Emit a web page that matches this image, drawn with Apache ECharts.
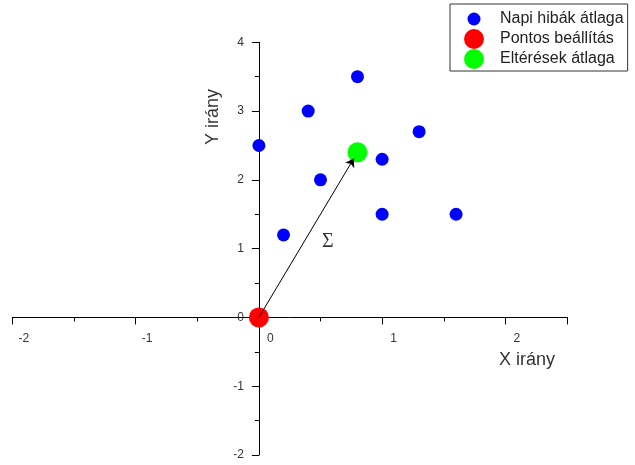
<!DOCTYPE html>
<html><head><meta charset="utf-8">
<script src="https://cdn.jsdelivr.net/npm/echarts@6/dist/echarts.min.js"></script>
<style>html,body{margin:0;padding:0;background:#fff}#c{width:635px;height:465px}</style>
</head><body><div id="c"></div>
<script>
const seriesNames = ['Napi hibák átlaga', 'Pontos beállítás', 'Eltérések átlaga'];
const dailyX = [0, 0.2, 0.4, 0.5, 0.8, 1.0, 1.0, 1.3, 1.6];
const dailyY = [2.5, 1.2, 3.0, 2.0, 3.5, 2.3, 1.5, 2.7, 1.5];
const exactPoint = [0, 0];
const meanPoint = [0.8, 2.4];
const arrowStart = [0, 0];
const arrowEnd = [0.77, 2.31];
const sigmaPos = [0.56, 1.1];
const sigmaText = 'Σ';
const xTicks = [-2, -1, 0, 1, 2];
const yTicks = [-2, -1, 0, 1, 2, 3, 4];
const xRange = [-2, 2.5];
const yRange = [-2, 4];
const xTitle = 'X irány';
const yTitle = 'Y irány';

const dailyData = dailyX.map((x, i) => [x, dailyY[i]]);
const FONT = 'Arial, "Liberation Sans", sans-serif';
const black = '#000';

const chart = echarts.init(document.getElementById('c'), null, {renderer: 'canvas'});
const smallCircle = 'path://M0,0 L0,0 M42,20 L42,20 M14.5,10 A6.5,6.5 0 1,1 27.5,10 A6.5,6.5 0 1,1 14.5,10 Z';

function buildAxes(xOffset, yOffset) {
  return {
    xAxis: [
      {
        type: 'value', min: xRange[0], max: xRange[1], interval: 1, position: 'bottom', offset: xOffset,
        splitLine: {show: false},
        axisLine: {show: true, onZero: false, lineStyle: {color: black, width: 1}},
        axisTick: {show: true, length: 7, lineStyle: {color: black, width: 1}},
        axisLabel: {
          show: true, color: '#333', fontSize: 12, fontFamily: FONT, margin: 15,
          padding: [0, 0, 0, 23], hideOverlap: false,
          formatter: v => xTicks.includes(v) ? String(v) : ''
        }
      },
      {
        type: 'value', min: xRange[0], max: xRange[1], interval: 0.5, position: 'bottom', offset: xOffset,
        splitLine: {show: false},
        axisLine: {show: false, onZero: false},
        axisTick: {show: true, length: 4, lineStyle: {color: black, width: 1}},
        axisLabel: {show: false}
      }
    ],
    yAxis: [
      {
        type: 'value', min: yRange[0], max: yRange[1], interval: 1, position: 'left', offset: yOffset,
        splitLine: {show: false},
        axisLine: {show: true, onZero: false, lineStyle: {color: black, width: 1}},
        axisTick: {show: true, length: 7, lineStyle: {color: black, width: 1}},
        axisLabel: {
          show: true, color: '#333', fontSize: 12, fontFamily: FONT, margin: 15, hideOverlap: false,
          formatter: v => yTicks.includes(v) ? String(v) : ''
        }
      },
      {
        type: 'value', min: yRange[0], max: yRange[1], interval: 0.5, position: 'left', offset: yOffset,
        splitLine: {show: false},
        axisLine: {show: false, onZero: false},
        axisTick: {show: true, length: 4, lineStyle: {color: black, width: 1}},
        axisLabel: {show: false}
      }
    ]
  };
}

const option = Object.assign({
  animation: false,
  backgroundColor: '#fff',
  grid: {left: 12.4, right: 68, top: 42.3, bottom: 10, containLabel: false, outerBoundsMode: 'none'},
  legend: {
    data: [
      {name: seriesNames[0], icon: smallCircle},
      {name: seriesNames[1], icon: 'circle'},
      {name: seriesNames[2], icon: 'circle'}
    ],
    orient: 'vertical',
    left: 450, top: 4,
    padding: [5, 4, 2, 3],
    itemWidth: 42, itemHeight: 20, itemGap: 0,
    borderColor: '#333', borderWidth: 1,
    selectedMode: false,
    textStyle: {color: '#222', fontSize: 16, fontFamily: FONT}
  },
  graphic: [
    {type: 'text', x: 527, y: 360, silent: true,
     style: {text: xTitle, font: '18px ' + FONT, fill: '#333', align: 'center', verticalAlign: 'middle'}},
    {type: 'text', x: 213, y: 117, rotation: Math.PI / 2, silent: true,
     style: {text: yTitle, font: '18px ' + FONT, fill: '#333', align: 'center', verticalAlign: 'middle'}}
  ],
  series: [
    {
      name: seriesNames[0], type: 'scatter', xAxisIndex: 0, yAxisIndex: 0,
      data: dailyData, symbol: 'circle', symbolSize: 13,
      itemStyle: {color: '#0000ff', opacity: 1}, z: 3
    },
    {
      name: seriesNames[1], type: 'scatter', xAxisIndex: 0, yAxisIndex: 0,
      data: [exactPoint], symbol: 'circle', symbolSize: 20,
      itemStyle: {color: '#ff0000', opacity: 1}, z: 4
    },
    {
      name: seriesNames[2], type: 'scatter', xAxisIndex: 0, yAxisIndex: 0,
      data: [meanPoint], symbol: 'circle', symbolSize: 20,
      itemStyle: {color: '#00ff00', opacity: 1}, z: 4
    },
    {
      type: 'lines', coordinateSystem: 'cartesian2d', xAxisIndex: 0, yAxisIndex: 0,
      data: [{coords: [arrowStart, arrowEnd]}],
      symbol: ['none', 'arrow'], symbolSize: 8,
      lineStyle: {color: black, width: 1, opacity: 1, curveness: 0},
      silent: true, z: 10
    },
    {
      type: 'scatter', xAxisIndex: 0, yAxisIndex: 0,
      data: [sigmaPos], symbolSize: 0, silent: true,
      label: {show: true, position: 'inside', formatter: sigmaText, fontSize: 20,
              color: black, fontFamily: '"Liberation Serif", "DejaVu Serif", serif'},
      z: 5
    }
  ]
}, buildAxes(0, 0));

chart.setOption(option);

// Move the axes so they cross at the data origin (0, 0), using the library's own scales.
const corner = chart.convertToPixel({gridIndex: 0}, [xRange[0], yRange[0]]);
const origin = chart.convertToPixel({gridIndex: 0}, [0, 0]);
chart.setOption(buildAxes(origin[1] - corner[1], corner[0] - origin[0]));
</script>
</body></html>
